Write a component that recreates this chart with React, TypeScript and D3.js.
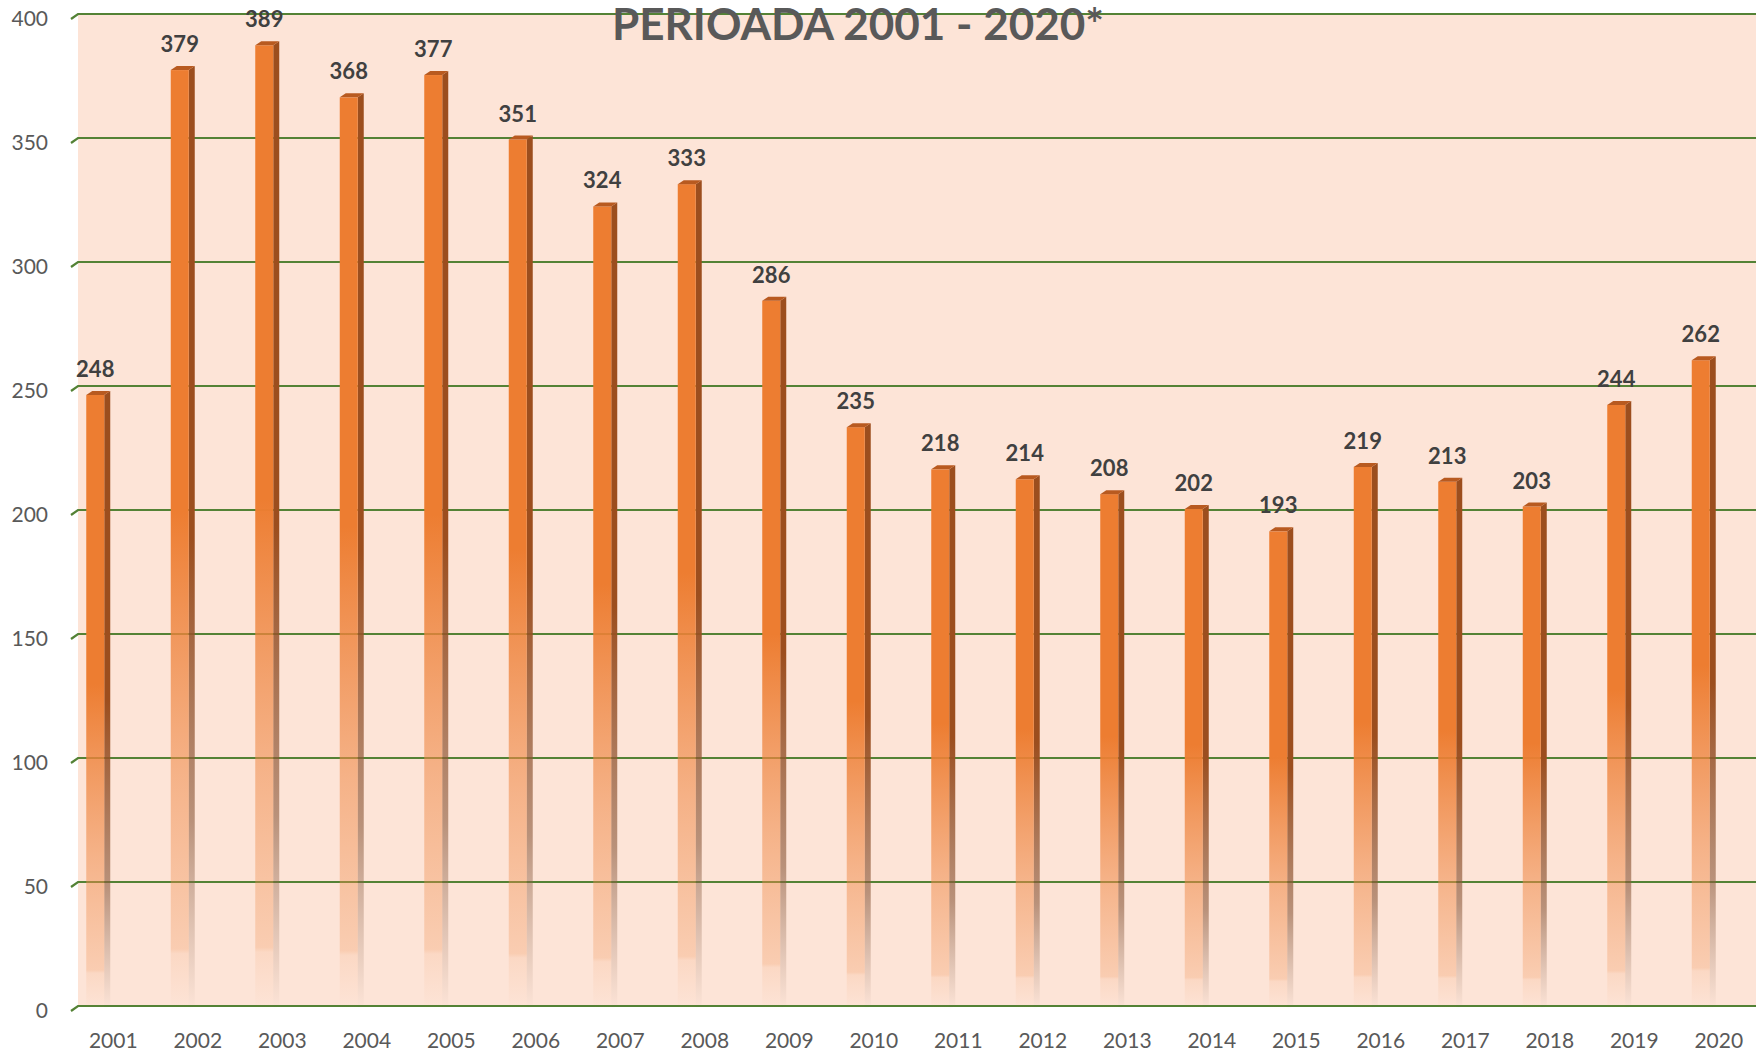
import React from 'react';
import * as d3 from 'd3';

const years = [
  '2001', '2002', '2003', '2004', '2005', '2006', '2007', '2008', '2009', '2010',
  '2011', '2012', '2013', '2014', '2015', '2016', '2017', '2018', '2019', '2020',
];
const counts = [248, 379, 389, 368, 377, 351, 324, 333, 286, 235, 218, 214, 208, 202, 193, 219, 213, 203, 244, 262];
const yTicks = [0, 50, 100, 150, 200, 250, 300, 350, 400];
const title = 'PERIOADA 2001 - 2020*';

const W = 1756;
const H = 1053;
const FONT = 'Lato, "Open Sans", "Noto Sans", sans-serif';

// 3d depth of floor / walls, and of the bars
const DX = 7;
const DY = 5;
const BDX = 6;
const BDY = 4;

const App: React.FC = () => {
  const x = d3.scaleBand<string>().domain(years).range([71, 1761]);
  const y = d3.scaleLinear().domain([0, 400]).range([1006, 14]);
  const bw = 18;
  const barLeft = (yr: string) => x(yr)! + x.bandwidth() / 2 - 27;

  return (
    <svg width={W} height={H} style={{ position: 'absolute', left: 0, top: 0, background: '#fff' }}>
      <defs>
        <linearGradient id="front" x1="0" y1="0" x2="0" y2="1">
          <stop offset="0" stopColor="#ED7D31" stopOpacity={1} />
          <stop offset="0.47" stopColor="#ED7D31" stopOpacity={1} />
          <stop offset="0.75" stopColor="#EF8A48" stopOpacity={0.55} />
          <stop offset="0.935" stopColor="#F09050" stopOpacity={0.28} />
          <stop offset="0.94" stopColor="#F09050" stopOpacity={0.14} />
          <stop offset="1" stopColor="#F09050" stopOpacity={0} />
        </linearGradient>
        <linearGradient id="side" x1="0" y1="0" x2="0" y2="1">
          <stop offset="0" stopColor="#9C4E1E" stopOpacity={1} />
          <stop offset="0.5" stopColor="#9C4E1E" stopOpacity={1} />
          <stop offset="0.8" stopColor="#8C5A3C" stopOpacity={0.6} />
          <stop offset="1" stopColor="#8C6A55" stopOpacity={0} />
        </linearGradient>
      </defs>

      {/* back wall */}
      <rect x={x.range()[0] + DX} y={y(400)} width={W - x.range()[0] - DX} height={y(0) - y(400)} fill="#FDE4D7" />

      {/* gridlines with slanted front edge */}
      {yTicks.map((t) => (
        <path
          key={t}
          d={`M${x.range()[0]},${y(t) + DY} L${x.range()[0] + DX},${y(t)} L${W},${y(t)}`}
          fill="none"
          stroke="#548235"
          strokeWidth={2.2}
        />
      ))}

      {/* y labels */}
      {yTicks.map((t) => (
        <text
          key={t}
          x={48}
          y={y(t) + DY}
          dy="0.35em"
          textAnchor="end"
          fontFamily={FONT}
          fontSize={21}
          fill="#595959"
        >
          {t}
        </text>
      ))}

      {/* bars */}
      {years.map((yr, i) => {
        const x0 = barLeft(yr);
        const top = y(counts[i]) + BDY;
        const bottom = y(0) + BDY;
        return (
          <g key={yr}>
            <polygon
              points={`${x0 + bw},${top} ${x0 + bw + BDX},${top - BDY} ${x0 + bw + BDX},${bottom - BDY} ${x0 + bw},${bottom}`}
              fill="url(#side)"
            />
            <rect x={x0} y={top} width={bw} height={bottom - top} fill="url(#front)" />
            <polygon
              points={`${x0},${top} ${x0 + BDX},${top - BDY} ${x0 + bw + BDX},${top - BDY} ${x0 + bw},${top}`}
              fill="#B85A20"
            />
            <text
              x={x0 + bw / 2}
              y={y(counts[i]) - 14}
              textAnchor="middle"
              fontFamily={FONT}
              fontSize={22}
              fontWeight="bold"
              fill="#404040"
            >
              {counts[i]}
            </text>
          </g>
        );
      })}

      {/* x labels */}
      {years.map((yr) => (
        <text
          key={yr}
          x={x(yr)! + x.bandwidth() / 2}
          y={1048}
          textAnchor="middle"
          fontFamily={FONT}
          fontSize={21}
          fill="#595959"
        >
          {yr}
        </text>
      ))}

      <text x={858} y={40} textAnchor="middle" fontFamily={FONT} fontSize={44} fontWeight="bold" fill="#595959">
        {title}
      </text>
    </svg>
  );
};

export default App;
